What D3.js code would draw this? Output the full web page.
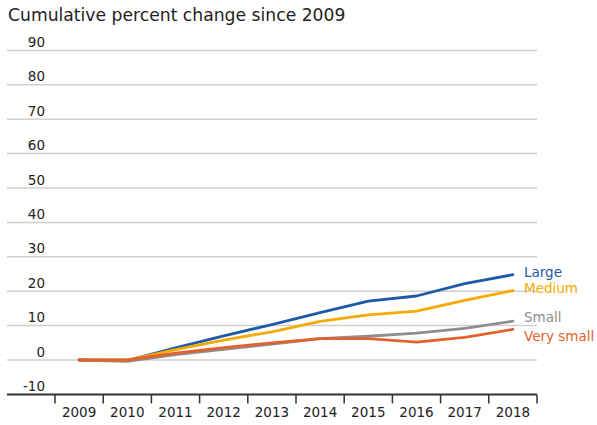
<!DOCTYPE html>
<html>
<head>
<meta charset="utf-8">
<script src="https://cdn.jsdelivr.net/npm/d3@7"></script>
<style>
  html, body { margin: 0; padding: 0; background: #fff; }
  svg { display: block; font-family: "DejaVu Sans", sans-serif; }
</style>
</head>
<body>
<svg id="chart" width="597" height="425"></svg>
<script>
const years = ["2009","2010","2011","2012","2013","2014","2015","2016","2017","2018"];
const yTicks = [-10, 0, 10, 20, 30, 40, 50, 60, 70, 80, 90];
const seriesNames = ["Large", "Medium", "Small", "Very small"];
const large     = [0, -0.2, 3.5, 7.0, 10.3, 13.8, 17.1, 18.6, 22.2, 24.8];
const medium    = [0,  0.0, 3.0, 5.8,  8.2, 11.2, 13.1, 14.2, 17.3, 20.2];
const small     = [0, -0.4, 1.6, 3.1,  4.6,  6.2,  6.9,  7.8,  9.2, 11.3];
const verySmall = [0,  0.0, 2.0, 3.6,  5.0,  6.2,  6.2,  5.2,  6.6,  8.9];
const colors = ["#1d5aa7", "#f5aa00", "#8e8e8e", "#e2622b"];
const title = "Cumulative percent change since 2009";

const seriesValues = [large, medium, small, verySmall];
const series = seriesNames.map((name, i) => ({ name, values: seriesValues[i], color: colors[i] }));

const svg = d3.select("#chart");
const x = d3.scaleBand().domain(years).range([55, 537]);
const y = d3.scaleLinear().domain([-10, 90]).range([394.4, 50.4]);

svg.append("text").attr("x", 8).attr("y", 21)
  .attr("font-size", 17.2).attr("fill", "#222").text(title);

// gridlines
const grid = svg.append("g");
grid.selectAll("line").data(yTicks.filter(d => d !== -10)).join("line")
  .attr("x1", 7).attr("x2", 537)
  .attr("y1", d => y(d)).attr("y2", d => y(d))
  .attr("stroke", "#cfcfcf").attr("stroke-width", 1.5);

// y labels
svg.append("g").selectAll("text").data(yTicks).join("text")
  .attr("x", 45).attr("y", d => y(d) - 3.5)
  .attr("text-anchor", "end").attr("font-size", 13.5).attr("fill", "#222")
  .text(d => d);

// x axis
const xAxis = svg.append("g").attr("transform", `translate(0,${y(-10)})`);
xAxis.append("line").attr("x1", 7).attr("x2", 537).attr("stroke", "#333").attr("stroke-width", 2);
const bounds = years.map(d => x(d)).concat([x.range()[1]]);
xAxis.selectAll("line.tick").data(bounds).join("line").attr("class", "tick")
  .attr("x1", d => d).attr("x2", d => d).attr("y1", 0).attr("y2", 9)
  .attr("stroke", "#333").attr("stroke-width", 1.5);
xAxis.selectAll("text").data(years).join("text")
  .attr("x", d => x(d) + x.bandwidth() / 2).attr("y", 23)
  .attr("text-anchor", "middle").attr("font-size", 13.5).attr("fill", "#222")
  .text(d => d);

// lines
const line = d3.line()
  .x((d, i) => x(years[i]) + x.bandwidth() / 2)
  .y(d => y(d));
svg.append("g").selectAll("path").data(series).join("path")
  .attr("d", d => line(d.values))
  .attr("fill", "none").attr("stroke", d => d.color)
  .attr("stroke-width", 2.8).attr("stroke-linejoin", "round").attr("stroke-linecap", "round");

// series labels
const labelY = { "Large": 277, "Medium": 293, "Small": 322, "Very small": 340.5 };
svg.append("g").selectAll("text").data(series).join("text")
  .attr("x", 524).attr("y", d => labelY[d.name])
  .attr("font-size", 13.5).attr("fill", d => d.color)
  .text(d => d.name);
</script>
</body>
</html>
